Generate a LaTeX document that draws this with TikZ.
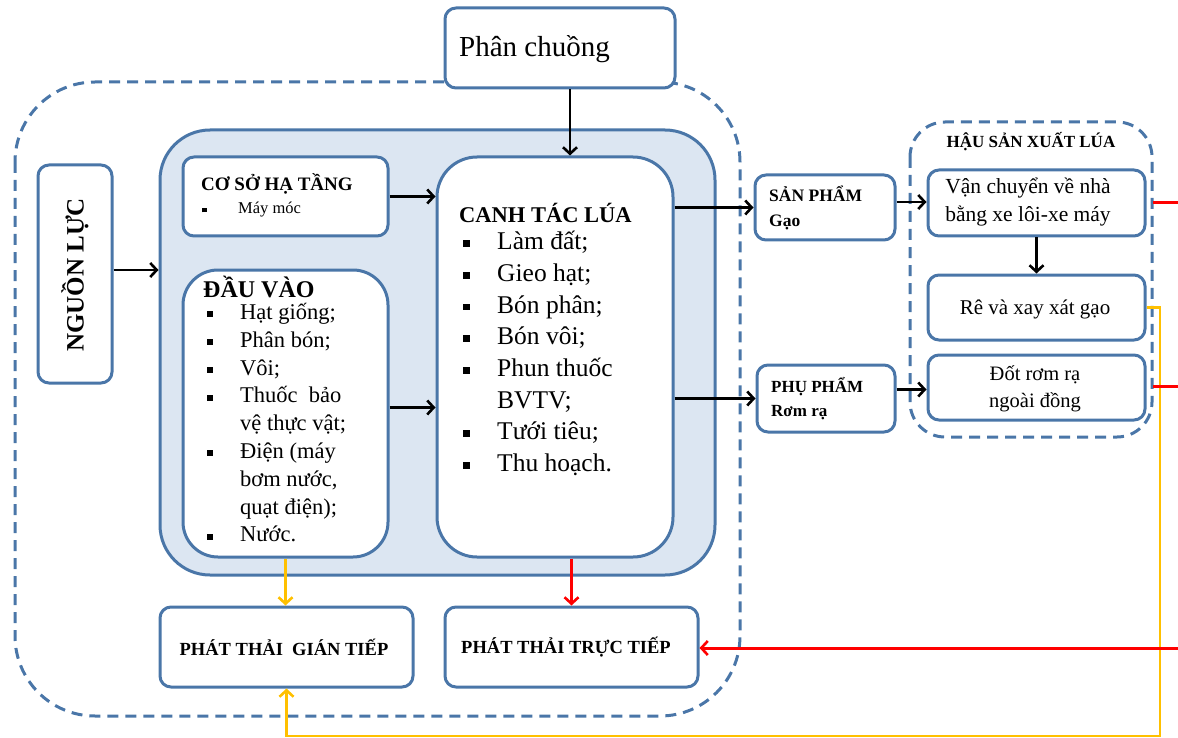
\documentclass[tikz,border=0pt]{standalone}
\usepackage{fontspec}
\setmainfont{Liberation Serif}
\usetikzlibrary{arrows.meta,fit}
\definecolor{bblue}{HTML}{4A76A8}
\definecolor{lfill}{HTML}{DCE6F2}
\definecolor{ayel}{HTML}{FFC000}
\definecolor{ared}{HTML}{FF0000}
\newcommand\bul[1]{\makebox[#1][l]{\raisebox{0.22ex}{\rule{0.27em}{0.27em}}}}
\begin{document}
\begin{tikzpicture}[x=1pt,y=-1pt,
  box/.style={draw=bblue, line width=3pt, fill=white, rounded corners=#1, inner sep=0pt},
  box/.default=11pt,
  dline/.style={draw=bblue, line width=3pt, dash pattern=on 11pt off 7pt},
  tip/.style={-{Straight Barb[length=6.5pt,width=14pt,line width=2.6pt]}},
  barr/.style={tip, line width=2.6pt, draw=black},
  yarr/.style={tip, line width=2.6pt, draw=ayel},
  rarr/.style={tip, line width=3pt, draw=ared},
  txt/.style={inner sep=0pt, text=black}
]
\useasboundingbox (0,0) rectangle (1178,738);
% outer dashed group
\draw[dline, rounded corners=80pt] (15,82) rectangle (740,716);
% inner blue group
\node[draw=bblue, line width=3pt, fill=lfill, rounded corners=50pt, inner sep=0pt, fit={(160,130)(715,575)}] (bb) {};
% boxes
\node[box, fit={(38,165)(112,383)}] (nl) {};
\node[box, fit={(183,157)(388,236)}] (cs) {};
\node[box=35pt, fit={(183,270)(388,557)}] (dv) {};
\node[box=40pt, fit={(437,157)(673,557)}] (ct) {};
\node[box, fit={(445,8)(675,88)}] (pc) {};
\node[box, fit={(755,175)(895,240)}] (sp) {};
\node[box, fit={(757,365)(895,432)}] (pp) {};
\draw[dline, rounded corners=35pt] (910,122) rectangle (1152,437);
\node[box, fit={(928,170)(1145,236)}] (vc) {};
\node[box, fit={(928,275)(1145,340)}] (rx) {};
\node[box, fit={(928,355)(1145,420)}] (dr) {};
\node[box, fit={(160,607)(413,687)}] (gt) {};
\node[box, fit={(445,607)(698,687)}] (tt) {};
% texts
\node[txt, anchor=west, font=\fontsize{29}{31}\selectfont] (pct) at (459,49) {Phân chuồng};
\node[txt, rotate=90, font=\bfseries\fontsize{25}{27}\selectfont] (nlt) at (75,275) {NGUỒN LỰC};
\node[txt, anchor=west, font=\bfseries\fontsize{19}{21}\selectfont] (csh) at (201,184) {CƠ SỞ HẠ TẦNG};
\node[txt, anchor=west, font=\fontsize{16.5}{19}\selectfont] (csl) at (202,210) {\bul{36pt}Máy móc};
\node[txt, anchor=west, font=\bfseries\fontsize{24}{26}\selectfont] (dvh) at (203,287) {ĐẦU VÀO};
\node[txt, anchor=north west, align=left, font=\fontsize{22.5}{27.8}\selectfont] (dvl) at (207,303)
 {\bul{33pt}Hạt giống;\\ \bul{33pt}Phân bón;\\ \bul{33pt}Vôi;\\ \bul{33pt}Thuốc\ \ bảo\\ \hspace*{33pt}vệ thực vật;\\
  \bul{33pt}Điện (máy\\ \hspace*{33pt}bơm nước,\\ \hspace*{33pt}quạt điện);\\ \bul{33pt}Nước.};
\node[txt, anchor=west, font=\bfseries\fontsize{22.5}{24}\selectfont] (cth) at (459,213) {CANH TÁC LÚA};
\node[txt, anchor=north west, align=left, font=\fontsize{25.5}{31.7}\selectfont] (ctl) at (463,231)
 {\bul{34pt}Làm đất;\\ \bul{34pt}Gieo hạt;\\ \bul{34pt}Bón phân;\\ \bul{34pt}Bón vôi;\\ \bul{34pt}Phun thuốc\\
  \hspace*{34pt}BVTV;\\ \bul{34pt}Tưới tiêu;\\ \bul{34pt}Thu hoạch.};
\node[txt, anchor=west, align=left, font=\bfseries\fontsize{17.5}{25}\selectfont] (spt) at (769,208) {SẢN PHẨM\\Gạo};
\node[txt, anchor=west, align=left, font=\bfseries\fontsize{17}{24}\selectfont] (ppt) at (771,399) {PHỤ PHẨM\\Rơm rạ};
\node[txt, font=\bfseries\fontsize{17}{18}\selectfont] (hst) at (1031,142) {HẬU\ SẢN\ XUẤT\ LÚA};
\node[txt, align=center, font=\fontsize{21.5}{28}\selectfont] (vct) at (1028,202) {Vận chuyển\ về nhà\\bằng xe lôi-xe máy};
\node[txt, font=\fontsize{21}{24}\selectfont] (rxt) at (1035,309) {Rê và xay xát gạo};
\node[txt, align=center, font=\fontsize{20.5}{27}\selectfont] (drt) at (1035,389) {Đốt rơm rạ\\ngoài đồng};
\node[txt, font=\bfseries\fontsize{18.5}{20}\selectfont] (gtt) at (284,647) {PHÁT THẢI\ \ GIÁN TIẾP};
\node[txt, anchor=west, font=\bfseries\fontsize{18.5}{20}\selectfont] (ttt) at (461,647) {PHÁT THẢI TRỰC TIẾP};
% black arrows
\draw[barr] ([xshift=10pt]pc.south) -- ([xshift=10pt]pc.south |- ct.north);
\draw[barr] ([yshift=4pt]nl.east) -- ([yshift=4pt]nl.east -| bb.west);
\draw[barr] (cs.east) -- (cs.east -| ct.west);
\draw[barr] ([yshift=6pt]dv.east) -- ([yshift=6pt]dv.east -| ct.west);
\draw[barr] (sp.west -| ct.east) -- (sp.west);
\draw[barr] (pp.west -| ct.east) -- (pp.west);
\draw[barr] ([yshift=1pt]vc.west -| sp.east) -- ([yshift=1pt]vc.west);
\draw[barr] ([yshift=-2pt]dr.west -| pp.east) -- ([yshift=-2pt]dr.west);
\draw[barr] (vc.south) -- (rx.north);
% yellow
\coordinate (ycorner) at (1160,736);
\draw[yarr] (dv.south) -- (dv.south |- gt.north);
\draw[yarr] (rx.east) -| (ycorner) -| (gt.south);
% red
\coordinate (re1a) at (1153,203);
\coordinate (re1b) at (1178,203);
\coordinate (re2a) at (1153,386);
\coordinate (re2b) at (1178,386);
\coordinate (re3) at (1178,648);
\draw[ared, line width=3pt] (re1a) -- (re1b);
\draw[ared, line width=3pt] (re2a) -- (re2b);
\draw[rarr] (tt.north |- ct.south) -- (tt.north);
\draw[rarr] (re3) -- (re3 -| tt.east);
\end{tikzpicture}
\end{document}
